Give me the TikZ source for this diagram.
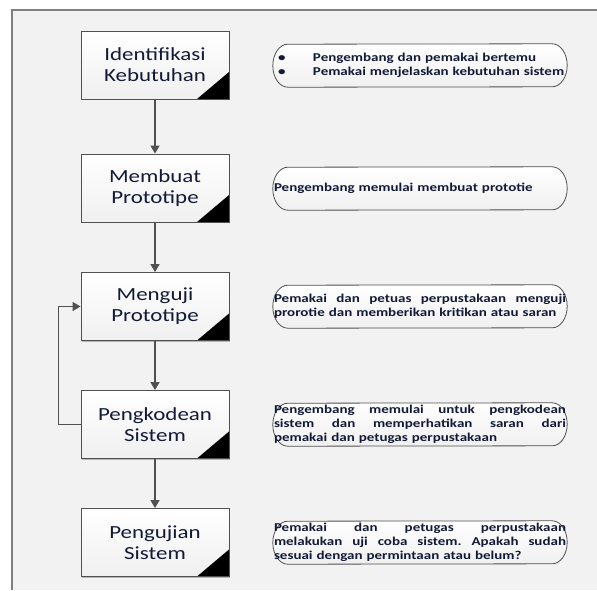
\documentclass[tikz,border=0pt]{standalone}
\usepackage{fontspec}
\setmainfont{Carlito}
\newfontfamily\boxfont[FakeStretch=1.24]{Carlito}
\newfontfamily\notefont[FakeStretch=1.25,BoldFont={* Bold}]{Carlito}
\usetikzlibrary{arrows.meta,calc,backgrounds,shadows}
\definecolor{framegray}{HTML}{7F7F7F}
\definecolor{bggray}{HTML}{F2F2F2}
\definecolor{linegray}{HTML}{505050}
\definecolor{txt}{HTML}{121A38}
\tikzset{
  stepbox/.style={rectangle, draw=linegray, line width=0.9pt,
    top color=white, bottom color=gray!12,
    drop shadow={shadow xshift=1.2pt, shadow yshift=-1.2pt, fill=black, opacity=0.25},
    minimum width=148pt, minimum height=68pt, inner sep=0pt,
    align=center, text=txt,
    font=\boxfont\fontsize{18.5}{21}\selectfont,
    path picture={\fill[black] (path picture bounding box.south east) -- ++(-32pt,0pt) -- ++(32pt,27pt) -- cycle;}},
  note/.style={rectangle,
    minimum width=294pt, minimum height=43pt, inner sep=0pt,
    text width=292pt, align=left, text=txt,
    font=\notefont\bfseries\fontsize{12}{14}\selectfont},
  noteline/.style={draw=linegray, line width=0.8pt, top color=white, bottom color=gray!12},
  flow/.style={draw=linegray, line width=1.5pt, -{Triangle[length=8pt,width=9pt]}}
}
\newcommand{\jl}[1]{\leavevmode\hbox to 292pt{#1}}
\newcommand{\noteshape}[1]{%
  \path[noteline] ($(#1.north east)+(-15pt,0pt)$) arc[start angle=90,end angle=-90,x radius=15pt,y radius=21.5pt]
    -- ($(#1.south west)+(15pt,0pt)$) arc[start angle=270,end angle=90,x radius=15pt,y radius=21.5pt] -- cycle;}
\begin{document}
\begin{tikzpicture}[x=1pt,y=-1pt]
\useasboundingbox (0,0) rectangle (597,590);

\node[stepbox] (b1) at (155,65) {Identifikasi\\Kebutuhan};
\node[stepbox] (b2) at (155,188) {Membuat\\Prototipe};
\node[stepbox] (b3) at (155,306.5) {Menguji\\Prototipe};
\node[stepbox] (b4) at (155,424.5) {Pengkodean\\Sistem};
\node[stepbox] (b5) at (155,542.5) {Pengujian\\Sistem};

\node[note] (n1) at (420,65.5) {\hspace*{4pt}\makebox[35pt][l]{\textbullet}Pengembang dan pemakai bertemu\\\hspace*{4pt}\makebox[35pt][l]{\textbullet}Pemakai menjelaskan kebutuhan sistem};
\node[note] (n2) at (420,188.5) {Pengembang memulai membuat prototie};
\node[note] (n3) at (420,306.5) {\jl{Pemakai\hfill dan\hfill petuas\hfill perpustakaan\hfill menguji}\\prorotie dan memberikan kritikan atau saran};
\node[note] (n4) at (420,424.5) {\jl{Pengembang\hfill memulai\hfill untuk\hfill pengkodean}\\\jl{sistem\hfill dan\hfill memperhatikan\hfill saran\hfill dari}\\pemakai dan petugas perpustakaan};
\node[note] (n5) at (420,542.5) {\jl{Pemakai\hfill dan\hfill petugas\hfill perpustakaan}\\\jl{melakukan\hfill uji\hfill coba\hfill sistem.\hfill Apakah\hfill sudah}\\sesuai dengan permintaan atau belum?};

\begin{scope}[on background layer]
\fill[bggray] (12,10) rectangle (597,590);
\draw[framegray, line width=1.3pt] (12,590) -- (12,10) -- (597,10);
\foreach \n in {n1,n2,n3,n4,n5} {\noteshape{\n}}
\end{scope}

\draw[flow] (b1) -- (b2);
\draw[flow] (b2) -- (b3);
\draw[flow] (b3) -- (b4);
\draw[flow] (b4) -- (b5);
\draw[flow] (b4.west) -- ++(-22,0) |- (b3.west);
\end{tikzpicture}
\end{document}
